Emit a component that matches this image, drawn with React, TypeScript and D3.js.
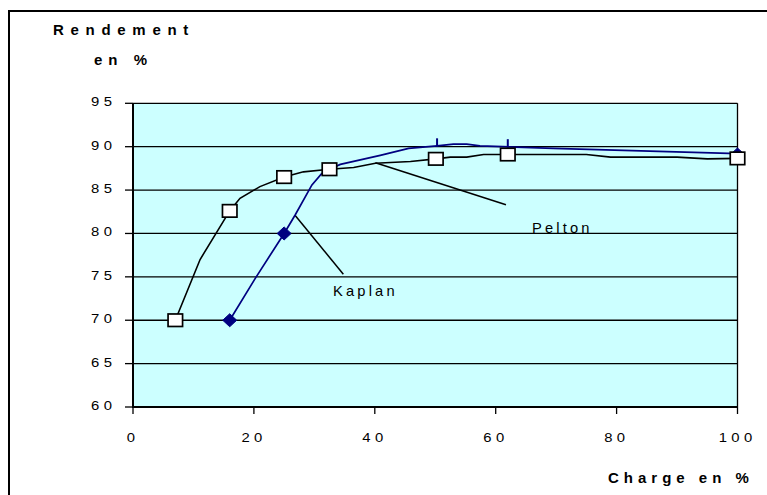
import React from "react";
import * as d3 from "d3";

const W = 767;
const H = 495;

const xTicks = [0, 20, 40, 60, 80, 100];
const yTicks = [60, 65, 70, 75, 80, 85, 90, 95];

// Pelton curve (charge %, rendement %)
const peltonX = [7, 11.1, 16, 17.7, 21, 25, 28.2, 32.5, 36.5, 40.1, 45.9, 50.1, 52.5, 55.2, 58, 62, 75, 79, 90, 95, 100];
const peltonY = [70, 77.0, 82.6, 84.05, 85.4, 86.5, 87.1, 87.4, 87.6, 88.1, 88.3, 88.6, 88.8, 88.8, 89.1, 89.1, 89.1, 88.8, 88.8, 88.6, 88.65];
const peltonMarkX = [7, 16, 25, 32.5, 50.1, 62, 100];
const peltonMarkY = [70, 82.6, 86.5, 87.4, 88.6, 89.1, 88.65];

// Kaplan curve
const kaplanX = [16, 20.2, 25, 26.8, 29.6, 31.2, 32.5, 34.3, 40.9, 45.6, 50.3, 53, 55.2, 57.4, 69.5, 100];
const kaplanY = [70, 74.8, 80, 82.1, 85.6, 86.9, 87.4, 87.96, 89.0, 89.8, 90.1, 90.3, 90.3, 90.1, 89.8, 89.2];
const kaplanDiamondX = [16, 25, 100];
const kaplanDiamondY = [70, 80, 89.1];
const kaplanTickX = [50.3, 62];
const kaplanTickY = [90.1, 90.0];

// annotation labels
const labelNames = ["Kaplan", "Pelton"];
const leaderFromX = [26.8, 40.1];
const leaderFromY = [82.1, 88.15];
const leaderToX = [34.8, 61.7];
const leaderToY = [75.3, 83.3];
const labelX = [33.1, 66];
const labelY = [72.8, 80.0];

const yTitle = ["Rendement", "en %"];
const xTitle = "Charge en %";

const FONT = "'Liberation Sans', Arial, sans-serif";

function SText(props: {
  x: number; y: number; children: string; size: number; ls: number; sx?: number;
  bold?: boolean; anchor?: "start" | "middle" | "end"; fill?: string;
}) {
  const { x, y, children, size, ls, sx = 1, bold, anchor = "start", fill = "#000" } = props;
  return (
    <text
      transform={`translate(${x},${y}) scale(${sx},1)`}
      fontFamily={FONT}
      fontSize={size}
      fontWeight={bold ? "bold" : "normal"}
      letterSpacing={ls}
      textAnchor={anchor}
      fill={fill}
    >
      {children}
    </text>
  );
}

export default function App() {
  const left = 133, right = 737.5, top = 103.3, bottom = 407;
  const x = d3.scaleLinear().domain([0, 100]).range([left, right]);
  const y = d3.scaleLinear().domain([60, 95]).range([bottom, top]);

  const line = d3.line<[number, number]>().x(d => x(d[0])).y(d => y(d[1]));
  const pelton = peltonX.map((v, i) => [v, peltonY[i]] as [number, number]);
  const kaplan = kaplanX.map((v, i) => [v, kaplanY[i]] as [number, number]);

  const navy = "#000080";
  const sqW = 14.5, sqH = 12.5;
  const dW = 7, dH = 6.5;
  const tickLs = 4;
  const tsx = 1.1;

  return (
    <svg width={W} height={H} style={{ position: "fixed", left: 0, top: 0, display: "block", background: "#fff" }}>
      {/* outer border (top & left only visible) */}
      <rect x={9} y={11} width={W + 10} height={H + 10} fill="#fff" stroke="#000" strokeWidth={2} />
      {/* plot background */}
      <rect x={left} y={top} width={right - left} height={bottom - top} fill="#CCFFFF" />
      {/* grid lines */}
      {yTicks.map(t => (
        <line key={"g" + t} x1={left} x2={right} y1={y(t)} y2={y(t)} stroke="#000" strokeWidth={1.3} />
      ))}
      {/* right border of plot */}
      <line x1={right} x2={right} y1={top} y2={bottom} stroke="#000" strokeWidth={1.3} />
      {/* axes */}
      <line x1={left} x2={left} y1={top} y2={bottom + 1} stroke="#000" strokeWidth={2} />
      <line x1={left - 1} x2={right} y1={bottom} y2={bottom} stroke="#000" strokeWidth={2} />
      {yTicks.map(t => (
        <g key={"yt" + t}>
          <line x1={left - 8} x2={left} y1={y(t)} y2={y(t)} stroke="#000" strokeWidth={1.3} />
          <SText x={112 + tickLs * tsx} y={y(t) + 3} size={13.5} ls={tickLs} sx={tsx} anchor="end">{String(t)}</SText>
        </g>
      ))}
      {xTicks.map(t => (
        <g key={"xt" + t}>
          <line x1={x(t)} x2={x(t)} y1={bottom} y2={bottom + 7} stroke="#000" strokeWidth={1.3} />
          <SText x={x(t) - 2 + (tickLs * tsx) / 2} y={442} size={13.5} ls={tickLs} sx={tsx} anchor="middle">{String(t)}</SText>
        </g>
      ))}

      {/* leader lines */}
      {labelNames.map((n, i) => (
        <line key={"ld" + n} x1={x(leaderFromX[i])} y1={y(leaderFromY[i])} x2={x(leaderToX[i])} y2={y(leaderToY[i])} stroke="#000" strokeWidth={1.5} />
      ))}

      {/* curves */}
      <path d={line(pelton) || ""} fill="none" stroke="#000" strokeWidth={1.6} />
      <path d={line(kaplan) || ""} fill="none" stroke={navy} strokeWidth={1.7} />

      {/* Kaplan markers */}
      {kaplanDiamondX.map((v, i) => {
        const cx = x(v), cy = y(kaplanDiamondY[i]);
        return (
          <path key={"kd" + i} d={`M${cx},${cy - dH}L${cx + dW},${cy}L${cx},${cy + dH}L${cx - dW},${cy}Z`} fill={navy} stroke={navy} strokeWidth={1} />
        );
      })}
      {kaplanTickX.map((v, i) => (
        <line key={"kt" + i} x1={x(v)} x2={x(v)} y1={y(kaplanTickY[i]) - 7.5} y2={y(kaplanTickY[i]) + 1} stroke={navy} strokeWidth={2} />
      ))}

      {/* Pelton markers */}
      {peltonMarkX.map((v, i) => (
        <rect key={"pm" + i} x={x(v) - sqW / 2} y={y(peltonMarkY[i]) - sqH / 2} width={sqW} height={sqH} fill="#fff" stroke="#000" strokeWidth={1.7} />
      ))}

      {/* labels */}
      {labelNames.map((n, i) => (
        <SText key={"lb" + n} x={x(labelX[i])} y={y(labelY[i])} size={14} ls={3} sx={1.05}>{n}</SText>
      ))}

      {/* titles */}
      <SText x={53} y={35} size={15} ls={6.7} bold>{yTitle[0]}</SText>
      <SText x={94} y={65} size={15} ls={6} bold>{yTitle[1]}</SText>
      <SText x={608} y={483} size={15} ls={5} bold>{xTitle}</SText>
    </svg>
  );
}
